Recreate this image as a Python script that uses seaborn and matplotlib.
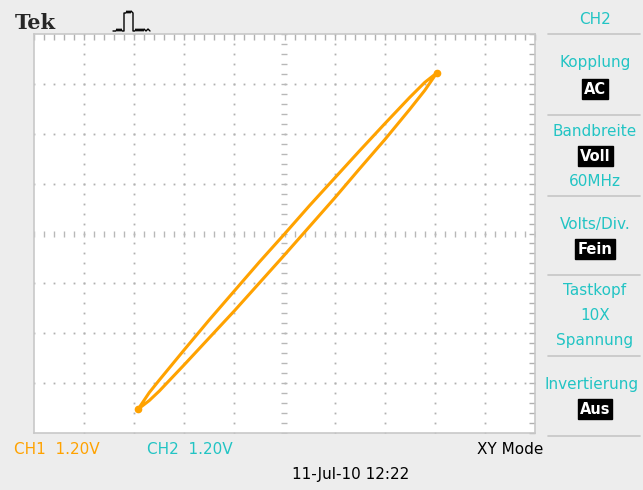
import numpy as np
import pandas as pd
import matplotlib.pyplot as plt
from matplotlib.lines import Line2D
import seaborn as sns

# trace, in divisions (1 div = 1.20 V)
branch_x = [-2.92, -2.7, -2.5, -2.0, -1.5, -1.0, -0.5, 0.0, 0.5, 1.0, 1.5, 2.0, 2.5, 2.8, 3.04]
upper_y = [-3.52, -3.19, -2.94, -2.33, -1.73, -1.15, -0.57, -0.01, 0.56, 1.11, 1.66, 2.20, 2.73, 3.03, 3.22]
lower_y = [-3.52, -3.35, -3.16, -2.63, -2.09, -1.55, -0.99, -0.43, 0.14, 0.71, 1.30, 1.88, 2.49, 2.87, 3.22]

menu_items = ["Kopplung", "Bandbreite", "Volts/Div.", "Tastkopf", "Invertierung"]
menu_values = ["AC", "Voll", "Fein", "10X", "Aus"]

ORANGE = "#FFA200"
CYAN = "#22C4C4"
W, H = 643, 490

sns.set_style("white")
plt.rcParams["font.family"] = ["DejaVu Sans"]

fig = plt.figure(figsize=(W / 100, H / 100), dpi=100, facecolor="#EDEDED")

def fx(px):
    return px / W

def fy(py):
    return 1 - py / H

ax = fig.add_axes([fx(34), fy(433), fx(501), 399 / H])
ax.set_facecolor("white")
ax.set_xlim(-5, 5)
ax.set_ylim(-4, 4)

# graticule: dotted grid lines
dots = np.arange(-4, 4.01, 0.2)
for gx in [-4, -3, -2, -1, 1, 2, 3, 4]:
    ax.plot(np.full(len(dots), gx), dots, ls="none", marker="s", ms=1.3, color="#B0B0B0", mew=0)
dots_h = np.arange(-5, 5.01, 0.2)
for gy in [-3, -2, -1, 1, 2, 3]:
    ax.plot(dots_h, np.full(len(dots_h), gy), ls="none", marker="s", ms=1.3, color="#B0B0B0", mew=0)
# centre lines with small ticks
ax.plot(np.zeros(len(dots)), dots, ls="none", marker="_", ms=4, mew=1, color="#B8B8B8")
ax.plot(dots_h, np.zeros(len(dots_h)), ls="none", marker="|", ms=4, mew=1, color="#B8B8B8")

# border ticks
ax.set_xticks(np.arange(-5, 5.01, 0.2))
ax.set_yticks(np.arange(-4, 4.01, 0.2))
ax.tick_params(direction="in", length=4, width=1, color="#B0B0B0",
               top=True, right=True, labelbottom=False, labelleft=False)
for s in ax.spines.values():
    s.set_color("#C8C8C8")
    s.set_linewidth(1.2)

# XY trace
loop = pd.DataFrame({
    "x": branch_x + branch_x[::-1],
    "y": upper_y + lower_y[::-1],
})
sns.lineplot(data=loop, x="x", y="y", sort=False, estimator=None,
             color=ORANGE, lw=2.2, ax=ax)
ax.plot(branch_x[0], upper_y[0], "o", ms=4.5, color=ORANGE)
ax.plot(branch_x[-1], upper_y[-1], "o", ms=4.5, color=ORANGE)
ax.set_xlabel("")
ax.set_ylabel("")

# header
fig.text(fx(15), fy(23), "Tek", fontsize=15, fontweight="bold", family="DejaVu Serif",
         va="center", ha="left")
px = [113, 116, 117, 118, 119, 120, 121, 122, 124, 124, 126, 127, 128, 129, 130, 131, 133, 133, 135, 136, 137, 138, 139, 140, 141, 142, 143, 144, 146, 148, 150]
py = [31, 31, 29, 31, 29, 31, 29, 31, 31, 13, 13, 11, 13, 11, 13, 11, 13, 31, 31, 29, 31, 29, 31, 29, 31, 29, 31, 29, 31, 29, 31]
fig.add_artist(Line2D([fx(p) for p in px], [fy(p) for p in py], color="black", lw=1))

# right menu
cx = 595
fig.text(fx(cx), fy(20), "CH2", color=CYAN, fontsize=11, ha="center", va="center")
for sep in [34, 115, 196, 275, 356, 436]:
    fig.add_artist(Line2D([fx(548), fx(640)], [fy(sep)] * 2, color="#C6C6C6", lw=1.2))

def boxed(y, s):
    fig.text(fx(cx), fy(y), s, color="white", fontsize=10.5, fontweight="bold",
             ha="center", va="center",
             bbox=dict(boxstyle="square,pad=0.15", fc="black", ec="black"))

fig.text(fx(cx), fy(63), menu_items[0], color=CYAN, fontsize=11, ha="center", va="center")
boxed(89, menu_values[0])
fig.text(fx(cx), fy(131), menu_items[1], color=CYAN, fontsize=11, ha="center", va="center")
boxed(156, menu_values[1])
fig.text(fx(cx), fy(181), "60MHz", color=CYAN, fontsize=11, ha="center", va="center")
fig.text(fx(cx), fy(225), menu_items[2], color=CYAN, fontsize=11, ha="center", va="center")
boxed(249, menu_values[2])
fig.text(fx(cx), fy(291), menu_items[3], color=CYAN, fontsize=11, ha="center", va="center")
fig.text(fx(cx), fy(316), menu_values[3], color=CYAN, fontsize=11, ha="center", va="center")
fig.text(fx(cx), fy(340), "Spannung", color=CYAN, fontsize=11, ha="center", va="center")
fig.text(fx(545), fy(384), menu_items[4], color=CYAN, fontsize=11, ha="left", va="center")
boxed(409, menu_values[4])

# footer
fig.text(fx(14), fy(449), "CH1  1.20V", color=ORANGE, fontsize=11, va="center")
fig.text(fx(147), fy(449), "CH2  1.20V", color=CYAN, fontsize=11, va="center")
fig.text(fx(510), fy(449), "XY Mode", color="black", fontsize=11, ha="center", va="center")
fig.text(fx(351), fy(474), "11-Jul-10 12:22", color="black", fontsize=11, ha="center", va="center")

fig.savefig("out.png", dpi=100, facecolor=fig.get_facecolor())
